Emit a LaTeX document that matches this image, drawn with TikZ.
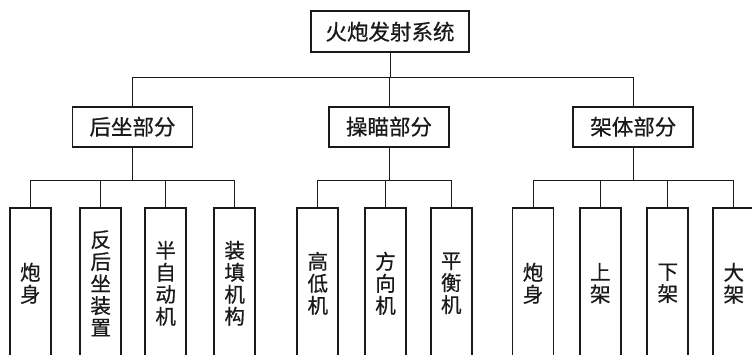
\documentclass[tikz,border=0pt]{standalone}
\usepackage{fontspec}
\newfontfamily\cjk[FakeBold=0.6]{Noto Sans CJK SC}
\definecolor{ink}{HTML}{1A1A1A}
\begin{document}
\begin{tikzpicture}[x=1pt,y=-1pt,
  box/.style={draw=ink,line width=1.7pt,inner sep=0pt,text=ink,font=\cjk\fontsize{21.5}{22}\selectfont},
  topbox/.style={box,minimum width=158,minimum height=41},
  midbox/.style={box,minimum width=120,minimum height=40},
  leafbox/.style={box,minimum width=41,minimum height=150,align=center,font=\cjk\fontsize{20.5}{22}\selectfont},
  link/.style={draw=ink,line width=0.9pt}]
\useasboundingbox[fill=white] (0,0) rectangle (752,355);
\begin{scope}
\clip (0,0) rectangle (752,355);
% root
\node[topbox] (root) at (390,31.7) {火炮发射系统};
% level 2
\node[midbox] (m1) at (132.5,126.7) {后坐部分};
\node[midbox] (m2) at (389,126.7) {操瞄部分};
\node[midbox] (m3) at (633.3,126.7) {架体部分};
% leaves
\node[leafbox] (a1) at (30.3,283.3) {炮\\身};
\node[leafbox] (a2) at (100.7,283.3) {反\\后\\坐\\装\\置};
\node[leafbox] (a3) at (165.7,283.3) {半\\自\\动\\机};
\node[leafbox] (a4) at (234.7,283.3) {装\\填\\机\\构};
\node[leafbox] (b1) at (317.8,283.3) {高\\低\\机};
\node[leafbox] (b2) at (385.5,283.3) {方\\向\\机};
\node[leafbox] (b3) at (451.2,283.3) {平\\衡\\机};
\node[leafbox] (c1) at (533,283.3) {炮\\身};
\node[leafbox] (c2) at (600.3,283.3) {上\\架};
\node[leafbox] (c3) at (667.8,283.3) {下\\架};
\node[leafbox] (c4) at (733.8,283.3) {大\\架};
% bus coordinates
\coordinate (bus0) at (387,77.3);
\coordinate (bus1) at (0,180);
% root to level 2
\draw[link] (root.south) -- (root.south |- bus0);
\draw[link] (m1.north) |- (m3.north |- bus0) -- (m3.north);
\draw[link] (m2.north |- bus0) -- (m2.north);
% group 1
\draw[link] (m1.south) -- (m1.south |- bus1);
\draw[link] (a1.north) |- (a4.north |- bus1) -- (a4.north);
\draw[link] (a2.north |- bus1) -- (a2.north);
\draw[link] (a3.north |- bus1) -- (a3.north);
% group 2
\draw[link] (m2.south) -- (m2.south |- bus1);
\draw[link] (b1.north) |- (b3.north |- bus1) -- (b3.north);
\draw[link] (b2.north |- bus1) -- (b2.north);
% group 3
\draw[link] (m3.south) -- (m3.south |- bus1);
\draw[link] (c1.north) |- (c4.north |- bus1) -- (c4.north);
\draw[link] (c2.north |- bus1) -- (c2.north);
\draw[link] (c3.north |- bus1) -- (c3.north);
\end{scope}
\end{tikzpicture}
\end{document}
